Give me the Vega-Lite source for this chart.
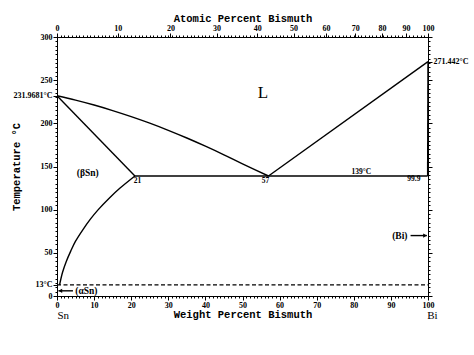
{
  "$schema": "https://vega.github.io/schema/vega-lite/v6.json",
  "width": 371,
  "height": 259,
  "autosize": "none",
  "padding": {"left": 57, "top": 37, "right": 46, "bottom": 59},
  "background": "white",
  "config": {
    "view": {"stroke": "black", "strokeWidth": 1},
    "axis": {
      "grid": false,
      "domainColor": "black",
      "domainWidth": 1,
      "tickColor": "black",
      "tickWidth": 1,
      "labelColor": "black",
      "labelFont": "Liberation Serif",
      "labelFontSize": 8,
      "labelFontWeight": "bold",
      "labelOverlap": false,
      "labelFlush": false,
      "labelBound": false,
      "titleColor": "black",
      "titleFont": "Liberation Mono",
      "titleFontWeight": "bold",
      "titleFontSize": 10.5
    }
  },
  "datasets": {
    "lines": [
      {"seg": "liqL", "i": 0, "wt": 0, "T": 231.9681},
      {"seg": "liqL", "i": 1, "wt": 5, "T": 226.9},
      {"seg": "liqL", "i": 2, "wt": 10, "T": 221.2},
      {"seg": "liqL", "i": 3, "wt": 15, "T": 214.8},
      {"seg": "liqL", "i": 4, "wt": 20, "T": 207.8},
      {"seg": "liqL", "i": 5, "wt": 25, "T": 200.2},
      {"seg": "liqL", "i": 6, "wt": 30, "T": 191.9},
      {"seg": "liqL", "i": 7, "wt": 35, "T": 183},
      {"seg": "liqL", "i": 8, "wt": 40, "T": 173.5},
      {"seg": "liqL", "i": 9, "wt": 45, "T": 163.5},
      {"seg": "liqL", "i": 10, "wt": 50, "T": 153},
      {"seg": "liqL", "i": 11, "wt": 57, "T": 139},
      {"seg": "solL", "i": 0, "wt": 0, "T": 231.9681},
      {"seg": "solL", "i": 1, "wt": 21, "T": 139},
      {"seg": "solvus", "i": 0, "wt": 21, "T": 139},
      {"seg": "solvus", "i": 1, "wt": 17, "T": 125},
      {"seg": "solvus", "i": 2, "wt": 14, "T": 113},
      {"seg": "solvus", "i": 3, "wt": 11, "T": 99.5},
      {"seg": "solvus", "i": 4, "wt": 9, "T": 89},
      {"seg": "solvus", "i": 5, "wt": 7, "T": 77},
      {"seg": "solvus", "i": 6, "wt": 5, "T": 63.5},
      {"seg": "solvus", "i": 7, "wt": 3.7, "T": 52},
      {"seg": "solvus", "i": 8, "wt": 2.5, "T": 40},
      {"seg": "solvus", "i": 9, "wt": 1.5, "T": 27.5},
      {"seg": "solvus", "i": 10, "wt": 0.7, "T": 13},
      {"seg": "eut", "i": 0, "wt": 21, "T": 139},
      {"seg": "eut", "i": 1, "wt": 99.9, "T": 139},
      {"seg": "liqR", "i": 0, "wt": 57, "T": 139},
      {"seg": "liqR", "i": 1, "wt": 100, "T": 271.442},
      {"seg": "solR", "i": 0, "wt": 99.9, "T": 139},
      {"seg": "solR", "i": 1, "wt": 100, "T": 271.442},
      {"seg": "arrA", "i": 0, "wt": 4.3, "T": 6},
      {"seg": "arrA", "i": 1, "wt": 0.4, "T": 6},
      {"seg": "arrB", "i": 0, "wt": 95.3, "T": 70},
      {"seg": "arrB", "i": 1, "wt": 99.7, "T": 70}
    ],
    "dashed": [
      {"seg": "alpha", "i": 0, "wt": 0, "T": 13},
      {"seg": "alpha", "i": 1, "wt": 100, "T": 13}
    ],
    "heads": [
      {"wt": 0.9, "T": 6, "shape": "triangle-left"},
      {"wt": 99.2, "T": 70, "shape": "triangle-right"}
    ],
    "phaseLabels": [
      {"wt": 8.3, "T": 143, "label": "(βSn)"},
      {"wt": 7.9, "T": 5.8, "label": "(αSn)"},
      {"wt": 92.4, "T": 70, "label": "(Bi)"}
    ],
    "smallLabels": [
      {"wt": 21.7, "T": 133.5, "label": "21"},
      {"wt": 56.2, "T": 133.5, "label": "57"},
      {"wt": 82, "T": 143.5, "label": "139°C"},
      {"wt": 96.2, "T": 135.5, "label": "99.9"}
    ],
    "elements": [
      {"wt": 1.7, "T": -23, "label": "Sn"},
      {"wt": 101.2, "T": -23, "label": "Bi"}
    ],
    "big": [
      {"wt": 55.5, "T": 235, "label": "L"}
    ]
  },
  "resolve": {"axis": {"x": "independent", "y": "independent"}},
  "layer": [
    {
      "data": {"name": "lines"},
      "mark": {"type": "line", "color": "black", "strokeWidth": 1.4, "clip": false, "interpolate": "catmull-rom"},
      "encoding": {
        "x": {
          "field": "wt", "type": "quantitative",
          "scale": {"domain": [0, 100], "nice": false, "zero": false},
          "axis": {
            "orient": "bottom",
            "title": "Weight Percent Bismuth",
            "titlePadding": 0,
            "labelColor": "black",
            "values": [0,1,2,3,4,5,6,7,8,9,10,11,12,13,14,15,16,17,18,19,20,21,22,23,24,25,26,27,28,29,30,31,32,33,34,35,36,37,38,39,40,41,42,43,44,45,46,47,48,49,50,51,52,53,54,55,56,57,58,59,60,61,62,63,64,65,66,67,68,69,70,71,72,73,74,75,76,77,78,79,80,81,82,83,84,85,86,87,88,89,90,91,92,93,94,95,96,97,98,99,100],
            "labelExpr": "datum.value % 10 == 0 ? datum.label : ''",
            "tickSize": {"condition": {"test": "datum.value % 10 == 0", "value": 4}, "value": 2},
            "labelPadding": 1
          }
        },
        "y": {
          "field": "T", "type": "quantitative",
          "scale": {"domain": [0, 300], "nice": false, "zero": false},
          "axis": {
            "orient": "left",
            "title": "Temperature °C",
            "titleX": -36,
            "titleY": 129.5,
            "labelColor": "black",
            "values": [0,5,10,13,15,20,25,30,35,40,45,50,55,60,65,70,75,80,85,90,95,100,105,110,115,120,125,130,135,140,145,150,155,160,165,170,175,180,185,190,195,200,205,210,215,220,225,230,231.9681,235,240,245,250,255,260,265,270,275,280,285,290,295,300],
            "labelExpr": "datum.value == 13 ? '13°C' : (datum.value == 231.9681 ? '231.9681°C' : (datum.value % 50 == 0 ? datum.label : ''))",
            "tickSize": {"condition": {"test": "datum.value % 50 == 0 || datum.value == 13 || datum.value == 231.9681", "value": 4}, "value": 2},
            "labelPadding": 1
          }
        },
        "detail": {"field": "seg"},
        "order": {"field": "i"}
      }
    },
    {
      "data": {"name": "dashed"},
      "mark": {"type": "line", "color": "black", "strokeWidth": 1.3, "strokeDash": [4, 2.5]},
      "encoding": {
        "x": {
          "field": "wt", "type": "quantitative",
          "axis": {
            "orient": "top",
            "title": "Atomic Percent Bismuth",
            "titlePadding": 1,
            "labelColor": "black",
            "values": [0,16.36,30.56,43.001,53.99,63.77,72.53,80.42,87.57,94.06,100,1,2,3,4,5,6,7,8,9,10,11,12,13,14,15,16,17,18,19,20,21,22,23,24,25,26,27,28,29,30,31,32,33,34,35,36,37,38,39,40,41,42,43,44,45,46,47,48,49,50,51,52,53,54,55,56,57,58,59,60,61,62,63,64,65,66,67,68,69,70,71,72,73,74,75,76,77,78,79,80,81,82,83,84,85,86,87,88,89,90,91,92,93,94,95,96,97,98,99],
            "labelExpr": "indexof([0,16.36,30.56,43.001,53.99,63.77,72.53,80.42,87.57,94.06,100], datum.value) >= 0 ? '' + (indexof([0,16.36,30.56,43.001,53.99,63.77,72.53,80.42,87.57,94.06,100], datum.value) * 10) : ''",
            "tickSize": {"condition": {"test": "indexof([0,16.36,30.56,43.001,53.99,63.77,72.53,80.42,87.57,94.06,100], datum.value) >= 0", "value": 4}, "value": 2},
            "labelPadding": 1
          }
        },
        "y": {
          "field": "T", "type": "quantitative",
          "axis": {
            "orient": "right",
            "title": null,
            "labelColor": "black",
            "values": [0,5,10,15,20,25,30,35,40,45,50,55,60,65,70,75,80,85,90,95,100,105,110,115,120,125,130,135,140,145,150,155,160,165,170,175,180,185,190,195,200,205,210,215,220,225,230,235,240,245,250,255,260,265,270,271.442,275,280,285,290,295,300],
            "labelExpr": "datum.value == 271.442 ? '271.442°C' : ''",
            "tickSize": {"condition": {"test": "datum.value % 50 == 0 || datum.value == 271.442", "value": 4}, "value": 2},
            "labelPadding": 1
          }
        },
        "detail": {"field": "seg"},
        "order": {"field": "i"}
      }
    },
    {
      "data": {"name": "heads"},
      "mark": {"type": "point", "filled": true, "color": "black", "size": 18, "opacity": 1},
      "encoding": {
        "x": {"field": "wt", "type": "quantitative", "axis": null},
        "y": {"field": "T", "type": "quantitative", "axis": null},
        "shape": {"field": "shape", "type": "nominal", "scale": null, "legend": null}
      }
    },
    {
      "data": {"name": "phaseLabels"},
      "mark": {"type": "text", "font": "Liberation Serif", "fontSize": 9.5, "fontWeight": "bold", "color": "black"},
      "encoding": {
        "x": {"field": "wt", "type": "quantitative", "axis": null},
        "y": {"field": "T", "type": "quantitative", "axis": null},
        "text": {"field": "label"}
      }
    },
    {
      "data": {"name": "smallLabels"},
      "mark": {"type": "text", "font": "Liberation Serif", "fontSize": 7.5, "fontWeight": "bold", "color": "black"},
      "encoding": {
        "x": {"field": "wt", "type": "quantitative", "axis": null},
        "y": {"field": "T", "type": "quantitative", "axis": null},
        "text": {"field": "label"}
      }
    },
    {
      "data": {"name": "elements"},
      "mark": {"type": "text", "font": "Liberation Serif", "fontSize": 11, "color": "black", "clip": false},
      "encoding": {
        "x": {"field": "wt", "type": "quantitative", "axis": null},
        "y": {"field": "T", "type": "quantitative", "axis": null},
        "text": {"field": "label"}
      }
    },
    {
      "data": {"name": "big"},
      "mark": {"type": "text", "font": "Liberation Serif", "fontSize": 17, "color": "black"},
      "encoding": {
        "x": {"field": "wt", "type": "quantitative", "axis": null},
        "y": {"field": "T", "type": "quantitative", "axis": null},
        "text": {"field": "label"}
      }
    }
  ]
}
